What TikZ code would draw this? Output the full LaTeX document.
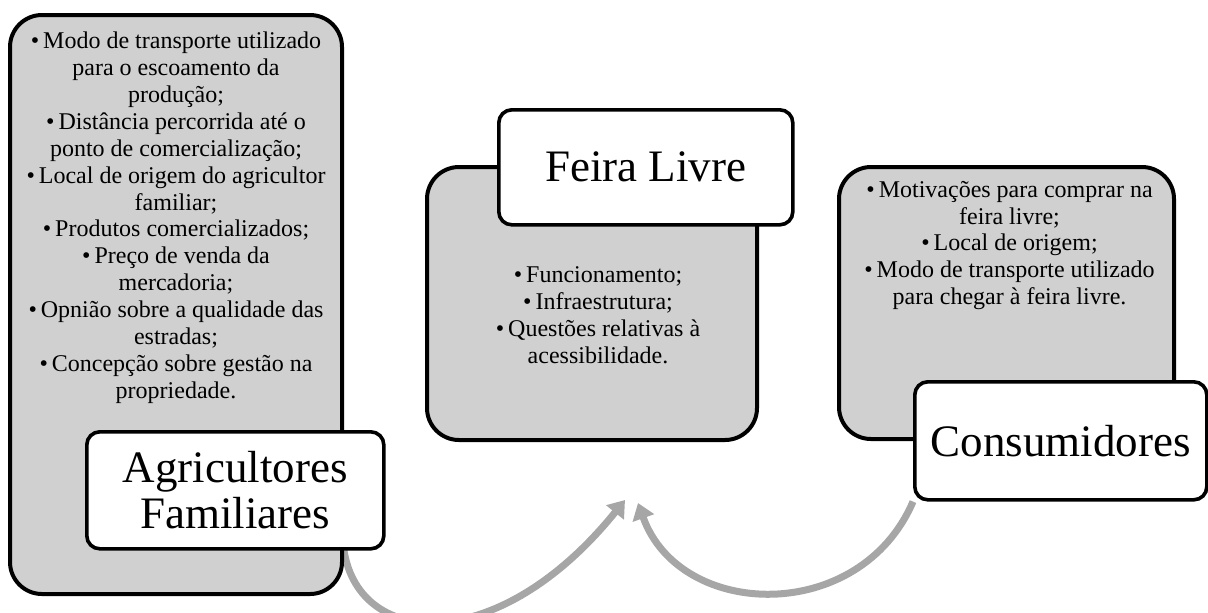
\documentclass[tikz,border=0pt]{standalone}
\usepackage{fontspec}
\setmainfont{Liberation Serif}
\usetikzlibrary{arrows.meta,positioning,backgrounds}
\definecolor{panelgray}{HTML}{D0D0D0}
\definecolor{flowgray}{HTML}{A6A6A6}
\tikzstyle{panel} = [rectangle, rounded corners=16pt, draw=black, line width=2pt, fill=panelgray, inner sep=0pt, anchor=north west]
\tikzstyle{titlebox} = [rectangle, rounded corners=6.5pt, draw=black, line width=1.8pt, fill=white, inner sep=0pt, anchor=north west, align=center, font=\fontsize{22.5}{23}\selectfont]
\tikzstyle{items} = [align=center, inner sep=0pt, font=\fontsize{12}{13.45}\selectfont]
\tikzstyle{flow} = [draw=flowgray, line width=3.5pt, -{Triangle[length=8pt,width=11pt]}]
\newcommand{\itm}{\textbullet\,}

\begin{document}
\begin{tikzpicture}[x=0.5pt, y=-0.5pt]
  \useasboundingbox (0,0) rectangle (1208,612);

  \node (agripanel) [panel, minimum width=166pt, minimum height=289.5pt] at (8,13) {};
  \node (feirapanel) [panel, minimum width=165pt, minimum height=136.5pt] at (425,165) {};
  \node (conspanel) [panel, minimum width=167.5pt, minimum height=136pt] at (837,165) {};

  \node (agriitems) [items, below=9.3pt of agripanel.north] {
    \itm Modo de transporte utilizado\\ para o escoamento da\\ produção;\\
    \itm Distância percorrida até o\\ ponto de comercialização;\\
    \itm Local de origem do agricultor\\ familiar;\\
    \itm Produtos comercializados;\\
    \itm Preço de venda da\\ mercadoria;\\
    \itm Opnião sobre a qualidade das\\ estradas;\\
    \itm Concepção sobre gestão na\\ propriedade.};
  \node (feiraitems) [items, below=50.7pt of feirapanel.north, xshift=3pt] {
    \itm Funcionamento;\\
    \itm Infraestrutura;\\
    \itm Questões relativas à\\ acessibilidade.};
  \node (consitems) [items, below=7.8pt of conspanel.north, xshift=1.5pt] {
    \itm Motivações para comprar na\\ feira livre;\\
    \itm Local de origem;\\
    \itm Modo de transporte utilizado\\ para chegar à feira livre.};

  \node (agri) [titlebox, minimum width=148.5pt, minimum height=58.5pt] at (85,430) {Agricultores\\ Familiares};
  \node (feira) [titlebox, minimum width=147pt, minimum height=57.5pt] at (497,108) {Feira Livre};
  \node (cons) [titlebox, minimum width=146pt, minimum height=59pt] at (913,380) {Consumidores};

  \coordinate (tipL) at (625,500);
  \coordinate (tipR) at (638,503);

  \begin{pgfonlayer}{background}
    \draw[flow] (agripanel.east |- agri.south) .. controls (360,650) and (500,655) .. (tipL);
    \draw[flow] (cons.south west) .. controls (860,625) and (680,620) .. (tipR);
  \end{pgfonlayer}
\end{tikzpicture}
\end{document}
